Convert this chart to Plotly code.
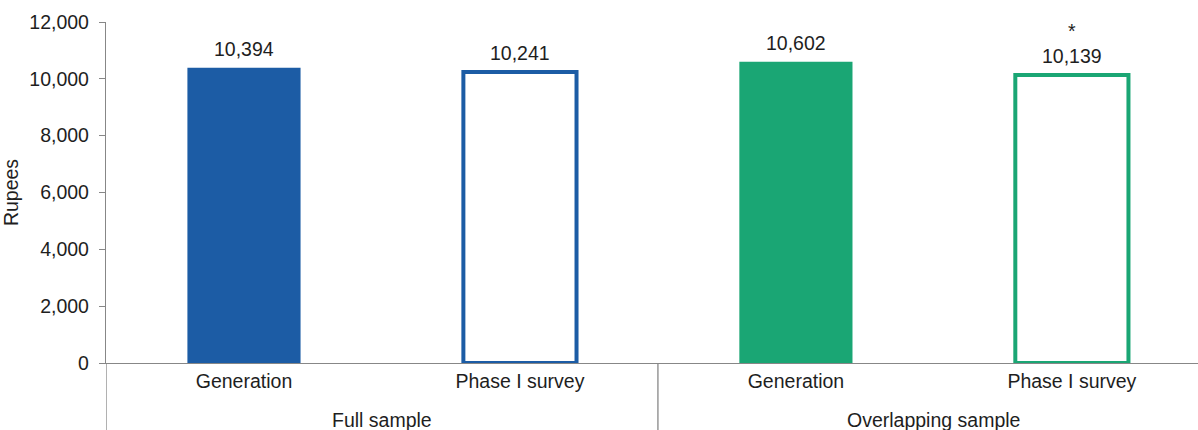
import plotly.graph_objects as go

# Average monthly amounts (Rupees)
groups = ["Full sample", "Full sample", "Overlapping sample", "Overlapping sample"]
sources = ["Generation", "Phase I survey", "Generation", "Phase I survey"]
values = [10394, 10241, 10602, 10139]
marks = ["", "", "", "*"]
group_names = ["Full sample", "Overlapping sample"]

y_ticks = [0, 2000, 4000, 6000, 8000, 10000, 12000]

BLUE = "#1c5ca5"
GREEN = "#1aa674"
AXIS = "#878787"
TEXT = "#1e1e1e"
FONT = "Arial, Liberation Sans, sans-serif"
FS = 19.5

colors = [BLUE, BLUE, GREEN, GREEN]
filled = [True, False, True, False]
xs = list(range(len(values)))

fig = go.Figure()
fig.add_trace(go.Bar(
    x=xs,
    y=values,
    width=0.41,
    marker=dict(
        color=[c if f else "white" for c, f in zip(colors, filled)],
        line=dict(color=colors, width=[0 if f else 4 for f in filled]),
    ),
    hoverinfo="skip",
    showlegend=False,
))

# value labels above each bar
for x, v, m in zip(xs, values, marks):
    label = f"{v:,}" if not m else f"{m}<br>{v:,}"
    fig.add_annotation(x=x, y=v, xref="x", yref="y", text=label,
                       showarrow=False, yanchor="bottom", yshift=6,
                       font=dict(family=FONT, size=FS, color=TEXT))

# group labels below the category labels
for i, g in enumerate(group_names):
    fig.add_annotation(x=2 * i + 0.5, y=-0.168, xref="x", yref="paper",
                       text=g, showarrow=False, yanchor="middle",
                       font=dict(family=FONT, size=FS, color=TEXT))

# group dividers
for xd in [-0.5, 1.5]:
    fig.add_shape(type="line", x0=xd, x1=xd, y0=0, y1=-0.21,
                  xref="x", yref="paper",
                  line=dict(color=AXIS, width=1.3))

fig.update_layout(
    width=1198, height=430,
    margin=dict(l=106, r=0, t=22, b=67),
    plot_bgcolor="white", paper_bgcolor="white",
    font=dict(family=FONT, size=FS, color=TEXT),
    bargap=0.59,
)
fig.update_xaxes(
    range=[-0.5, 3.457],
    tickvals=xs, ticktext=sources,
    showgrid=False, zeroline=False,
    showline=True, linecolor=AXIS, linewidth=1.3,
    ticks="", ticklabelstandoff=0,
    tickfont=dict(family=FONT, size=FS, color=TEXT),
)
fig.update_yaxes(
    range=[0, 12000],
    tickvals=y_ticks, tickformat=",d",
    showgrid=False, zeroline=False,
    showline=True, linecolor=AXIS, linewidth=1.3,
    ticks="outside", ticklen=6, tickcolor=AXIS, tickwidth=1.3,
    ticklabelstandoff=6,
    tickfont=dict(family=FONT, size=FS, color=TEXT),
    title=dict(text="Rupees", standoff=8,
               font=dict(family=FONT, size=FS, color=TEXT)),
)

fig.write_html("out.html")
